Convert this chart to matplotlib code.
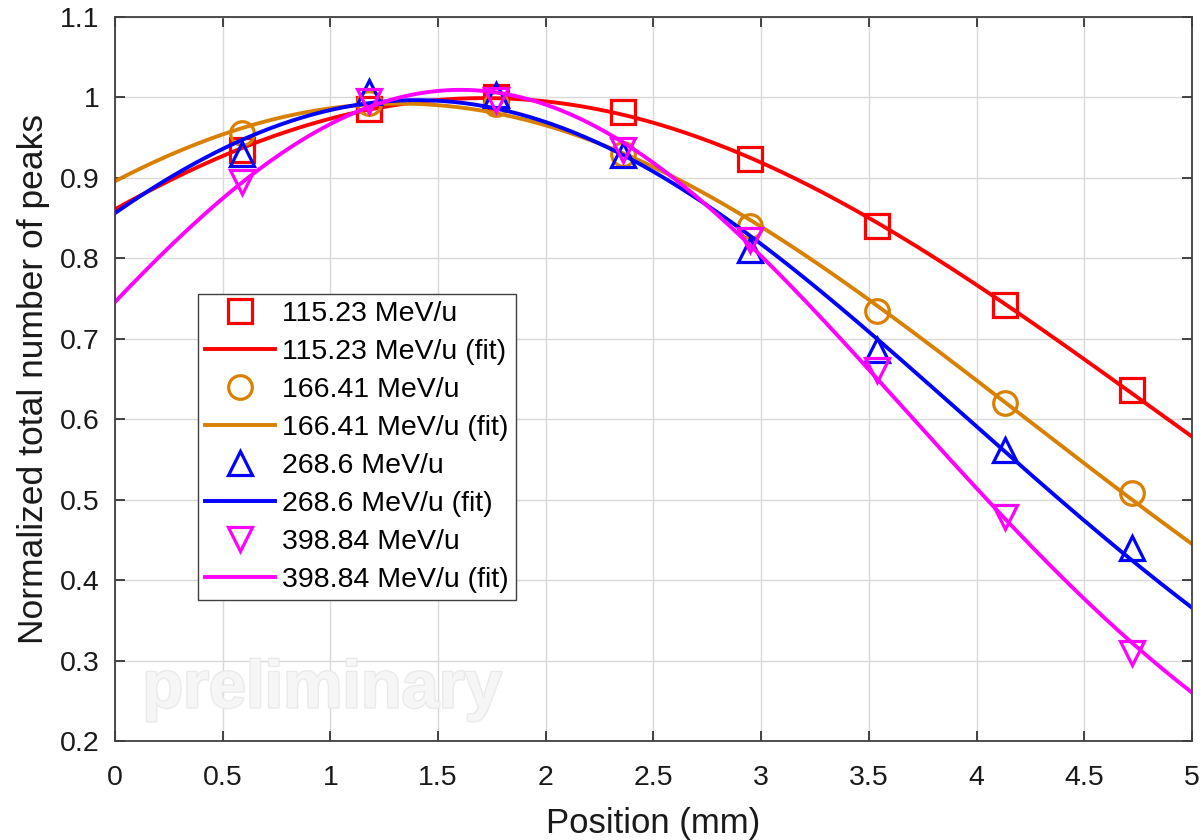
import matplotlib
matplotlib.use('Agg')
import matplotlib.pyplot as plt
import matplotlib.patheffects as pe
import numpy as np

plt.rcParams['font.family'] = ['Liberation Sans', 'DejaVu Sans']

# measured positions (mm) and normalized peak counts per beam energy
position = [0.59, 1.18, 1.77, 2.36, 2.95, 3.54, 4.13, 4.72]
energies = ['115.23', '166.41', '268.6', '398.84']
peaks_115 = [0.935, 0.986, 1.000, 0.982, 0.923, 0.840, 0.742, 0.636]
peaks_166 = [0.956, 0.993, 0.992, 0.930, 0.840, 0.735, 0.620, 0.508]
peaks_268 = [0.930, 1.007, 1.003, 0.928, 0.810, 0.686, 0.562, 0.440]
peaks_398 = [0.895, 0.995, 0.997, 0.935, 0.823, 0.661, 0.478, 0.309]

series = [peaks_115, peaks_166, peaks_268, peaks_398]
colors = ['#ff0000', '#d98000', '#0000ff', '#ff00ff']
markers = ['s', 'o', '^', 'v']


def gauss_fit(x, y):
    # gaussian fit via weighted quadratic fit of log(y)
    c2, c1, c0 = np.polyfit(x, np.log(y), 2, w=y)
    return lambda t: np.exp(c2 * t**2 + c1 * t + c0)


fig = plt.figure(figsize=(12.04, 8.4), dpi=100)
ax = fig.add_axes([0.0955, 0.1179, 0.8945, 0.8619])

xs = np.linspace(0, 5, 300)
for e, y, c, m in zip(energies, series, colors, markers):
    ax.plot(position, y, linestyle='none', marker=m, markersize=17,
            markerfacecolor='none', markeredgecolor=c, markeredgewidth=2.3,
            label=f'{e} MeV/u')
    f = gauss_fit(np.array(position), np.array(y))
    ax.plot(xs, f(xs), color=c, linewidth=2.8, label=f'{e} MeV/u (fit)')

ax.set_xlim(0, 5)
ax.set_ylim(0.2, 1.1)
ax.set_xticks(np.arange(0, 5.01, 0.5))
ax.set_yticks(np.arange(0.2, 1.101, 0.1))
ax.set_xticklabels(['0', '0.5', '1', '1.5', '2', '2.5', '3', '3.5', '4', '4.5', '5'])
ax.set_yticklabels(['0.2', '0.3', '0.4', '0.5', '0.6', '0.7', '0.8', '0.9', '1', '1.1'])
ax.grid(True, color='#d9d9d9', linewidth=1.0)
ax.set_axisbelow(True)
ax.tick_params(direction='in', length=7, width=1.2, top=True, right=True,
               labelsize=20.5, colors='#262626', labelcolor='#1a1a1a')
ax.tick_params(axis='x', pad=17)
ax.tick_params(axis='y', pad=11)
for s in ax.spines.values():
    s.set_color('#404040')
    s.set_linewidth(1.3)

ax.set_xlabel('Position (mm)', fontsize=25, color='#1a1a1a', labelpad=12)
ax.set_ylabel('Normalized total number of peaks', fontsize=25.5, color='#1a1a1a', labelpad=7)

ax.text(0.192, 0.07, 'preliminary', transform=ax.transAxes, ha='center', va='center',
        fontsize=48, fontweight='bold', color='#f6f6f6',
        path_effects=[pe.withStroke(linewidth=2, foreground='#eaeaea')], zorder=1)

leg = ax.legend(loc='upper left', bbox_to_anchor=(0.077, 0.617), borderaxespad=0,
                fontsize=20.5, fancybox=False, framealpha=1, edgecolor='#404040',
                handlelength=2.45, handletextpad=0.25, labelspacing=0.42,
                borderpad=0.25)
leg.get_frame().set_linewidth(1.0)

fig.savefig('out.png', dpi=100)
